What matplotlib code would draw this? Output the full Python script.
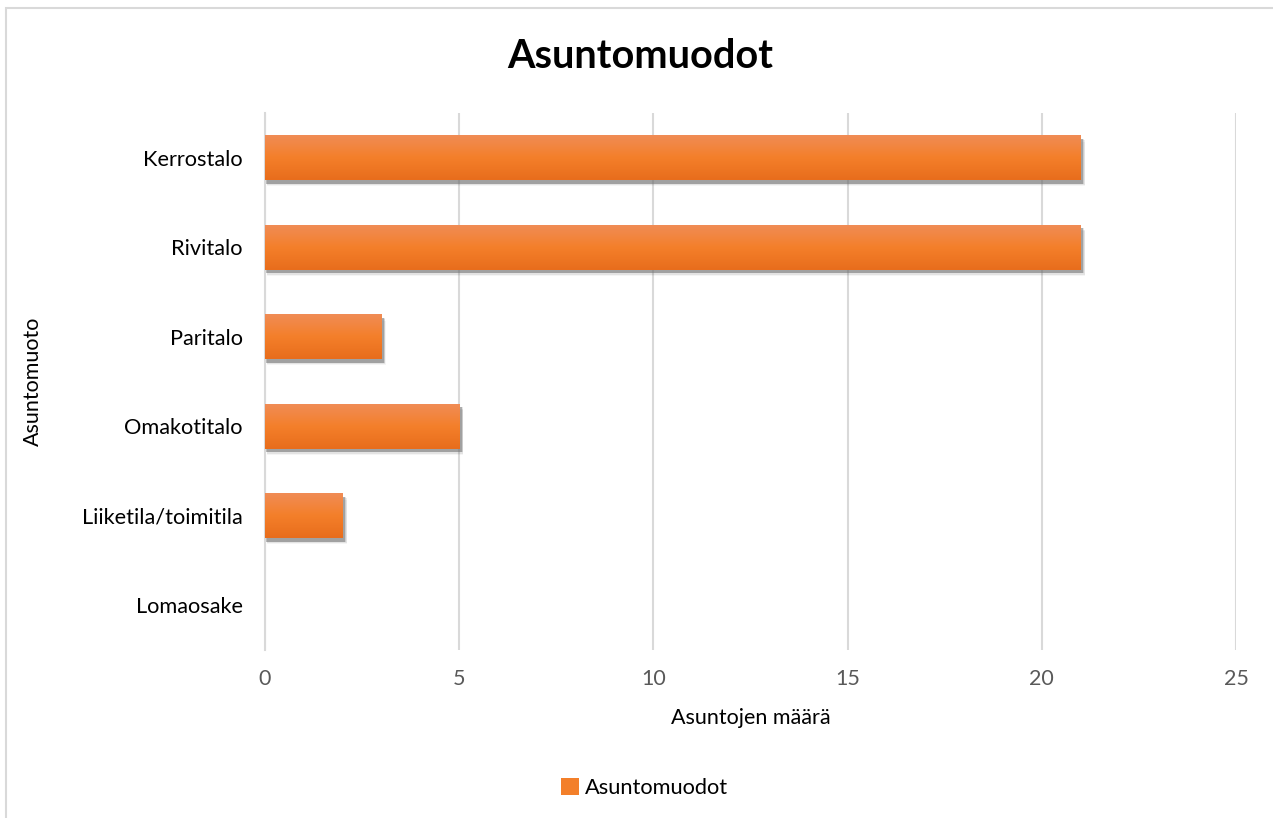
import matplotlib
matplotlib.use("Agg")
import matplotlib.pyplot as plt
import numpy as np
from matplotlib.patches import Rectangle
from matplotlib.colors import LinearSegmentedColormap

categories = ["Kerrostalo", "Rivitalo", "Paritalo", "Omakotitalo", "Liiketila/toimitila", "Lomaosake"]
values = [21, 21, 3, 5, 2, 0]
xticks = [0, 5, 10, 15, 20, 25]
title = "Asuntomuodot"
xlabel = "Asuntojen määrä"
ylabel = "Asuntomuoto"
series_name = "Asuntomuodot"

plt.rcParams['font.family'] = ['Lato', 'DejaVu Sans']

fig = plt.figure(figsize=(12.73, 8.18), dpi=100)
ax = fig.add_axes([265/1273, 1-650/818, (1236-265)/1273, (650-113)/818])

# outer chart border
fig.patches.append(Rectangle((6/1273, -0.1), 1.2, 1-8/818+0.1, transform=fig.transFigure,
                             fill=False, edgecolor="#d9d9d9", linewidth=1.5))

ypos = np.arange(len(categories))
bh = 0.5
bars = ax.barh(ypos, values, height=bh, color="#f37f2a", zorder=3)

cmap = LinearSegmentedColormap.from_list("g", ["#f08c55", "#f47f2a", "#e86d1c"])
grad = np.linspace(0, 1, 100).reshape(-1, 1)
for b in bars:
    x0, y0, w, h = b.get_x(), b.get_y(), b.get_width(), b.get_height()
    if w <= 0:
        continue
    for i, a in enumerate([0.04, 0.07, 0.10]):
        off = 0.07 - i * 0.015
        ax.add_patch(Rectangle((x0 + 0.04 + 0.012*i, y0 + off), w + 0.07 - 0.02*i, h,
                               facecolor="#000000", alpha=a, edgecolor="none", zorder=2))
    ax.add_patch(Rectangle((x0, y0 + 0.04), w + 0.06, h, facecolor="#7f7f7f", alpha=0.55,
                           edgecolor="none", zorder=2.5))
    ax.imshow(grad, extent=[x0, x0 + w, y0 + h, y0], aspect="auto", cmap=cmap,
              zorder=3.5, interpolation="bicubic")

ax.set_xlim(0, 25)
ax.set_ylim(len(categories) - 0.5, -0.5)
ax.set_xticks(xticks)
ax.set_xticklabels([str(t) for t in xticks], color="#595959", fontsize=15.5)
ax.set_yticks(ypos)
ax.set_yticklabels(categories, fontsize=15.7, color="#000000")
ax.tick_params(axis="both", length=0)
ax.tick_params(axis="x", pad=14)
ax.tick_params(axis="y", pad=16)
ax.grid(axis="x", color="#d9d9d9", linewidth=1.5, zorder=0)
for s in ["top", "right", "bottom"]:
    ax.spines[s].set_visible(False)
ax.spines["left"].set_color("#d9d9d9")
ax.spines["left"].set_linewidth(1.5)
ax.set_axisbelow(True)

ax.set_xlabel(xlabel, fontsize=15.5, labelpad=13)
ax.set_ylabel(ylabel, fontsize=15.5, labelpad=28)

fig.text(640/1273, 1-57/818, title, ha="center", va="center", fontsize=28.5, fontweight="bold")

handle = Rectangle((0, 0), 1, 1, facecolor="#f37f2a")
fig.legend([handle], [series_name], loc="center", bbox_to_anchor=(645/1273, 1-788/818),
           frameon=False, fontsize=15.7, handlelength=0.8, handleheight=0.8, handletextpad=0.3)

fig.savefig("out.png", dpi=100, facecolor="white")
